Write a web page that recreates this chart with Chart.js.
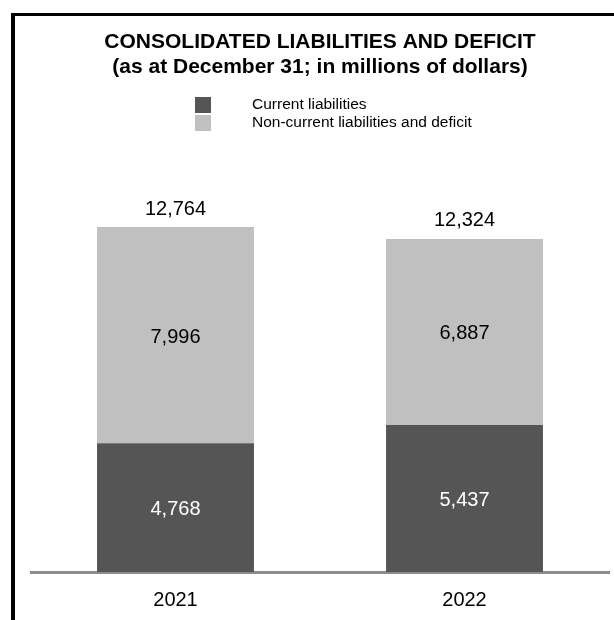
<!DOCTYPE html>
<html>
<head>
<meta charset="utf-8">
<script src="https://cdn.jsdelivr.net/npm/chart.js@4/dist/chart.umd.min.js"></script>
<style>
  html, body { margin: 0; padding: 0; background: #fff; }
  #wrap { position: relative; width: 614px; height: 620px; }
  #frame {
    position: absolute; left: 11px; top: 13px; right: 0; bottom: 0;
    border-top: 3px solid #000; border-left: 4px solid #000;
    pointer-events: none;
  }
</style>
</head>
<body>
<div id="wrap">
  <canvas id="liabCanvas" width="614" height="620"></canvas>
  <div id="frame"></div>
</div>
<script>
// year-end balances, millions of dollars
var years = ["2021", "2022"];
var currentLiabilities = [4768, 5437];
var nonCurrentLiabilities = [7996, 6887];
var seriesNames = ["Current liabilities", "Non-current liabilities and deficit"];
var seriesColors = ["#555555", "#c0c0c0"];
var labelColors = ["#ffffff", "#000000"];

var FONT = "'Liberation Sans', Arial, sans-serif";

function fmt(v) {
  return v.toLocaleString("en-US");
}

// numbers inside each segment + stack total above the bar
var valueLabels = {
  id: "valueLabels",
  afterDatasetsDraw: function(chart) {
    var ctx = chart.ctx;
    ctx.save();
    ctx.font = "20px " + FONT;
    ctx.textAlign = "center";
    ctx.textBaseline = "middle";
    var metas = chart.getSortedVisibleDatasetMetas();
    metas.forEach(function(m) {
      m.data.forEach(function(bar, i) {
        var v = chart.data.datasets[m.index].data[i];
        ctx.fillStyle = labelColors[m.index];
        ctx.fillText(fmt(v), bar.x, (bar.y + bar.base) / 2 + 2);
      });
    });
    var top = metas[metas.length - 1];
    top.data.forEach(function(bar, i) {
      var total = currentLiabilities[i] + nonCurrentLiabilities[i];
      ctx.fillStyle = "#000000";
      ctx.fillText(fmt(total), bar.x, bar.y - 18);
    });
    ctx.restore();
  }
};

// stacked legend: swatch column, text column further right
var sideLegend = {
  id: "sideLegend",
  afterDraw: function(chart) {
    var ctx = chart.ctx;
    ctx.save();
    ctx.font = "15.5px " + FONT;
    ctx.textAlign = "left";
    ctx.textBaseline = "middle";
    chart.data.datasets.forEach(function(ds, i) {
      var y = 97 + i * 18;
      ctx.fillStyle = ds.backgroundColor;
      ctx.fillRect(195, y, 16, 16);
      ctx.fillStyle = "#000000";
      ctx.fillText(ds.label, 252, y + 8);
    });
    ctx.restore();
  }
};

var data = {
  labels: years,
  datasets: [
    { label: seriesNames[0], data: currentLiabilities, backgroundColor: seriesColors[0] },
    { label: seriesNames[1], data: nonCurrentLiabilities, backgroundColor: seriesColors[1] }
  ]
};

var chart = new Chart(document.getElementById("liabCanvas").getContext("2d"), {
  type: "bar",
  data: data,
  options: {
    responsive: false,
    animation: false,
    devicePixelRatio: 1,
    layout: { padding: { left: 31, right: 5, top: 0, bottom: 8 } },
    datasets: { bar: { barPercentage: 0.543, categoryPercentage: 1, borderWidth: 0 } },
    scales: {
      x: {
        stacked: true,
        grid: { display: false, drawTicks: false },
        border: { display: true, color: "#8c8c8c", width: 3 },
        ticks: { color: "#000000", padding: 16, font: { family: FONT, size: 20 } },
        afterFit: function(scale) { scale.height = 40; }
      },
      y: {
        stacked: true,
        display: false,
        min: 0,
        max: 14000
      }
    },
    plugins: {
      legend: { display: false },
      tooltip: { enabled: false },
      title: {
        display: true,
        text: ["CONSOLIDATED LIABILITIES AND DEFICIT", "(as at December 31; in millions of dollars)"],
        color: "#000000",
        font: { family: FONT, size: 21, weight: "bold", lineHeight: 1.2 },
        padding: { top: 29.4, bottom: 113.8 }
      }
    }
  },
  plugins: [valueLabels, sideLegend]
});
</script>
</body>
</html>
